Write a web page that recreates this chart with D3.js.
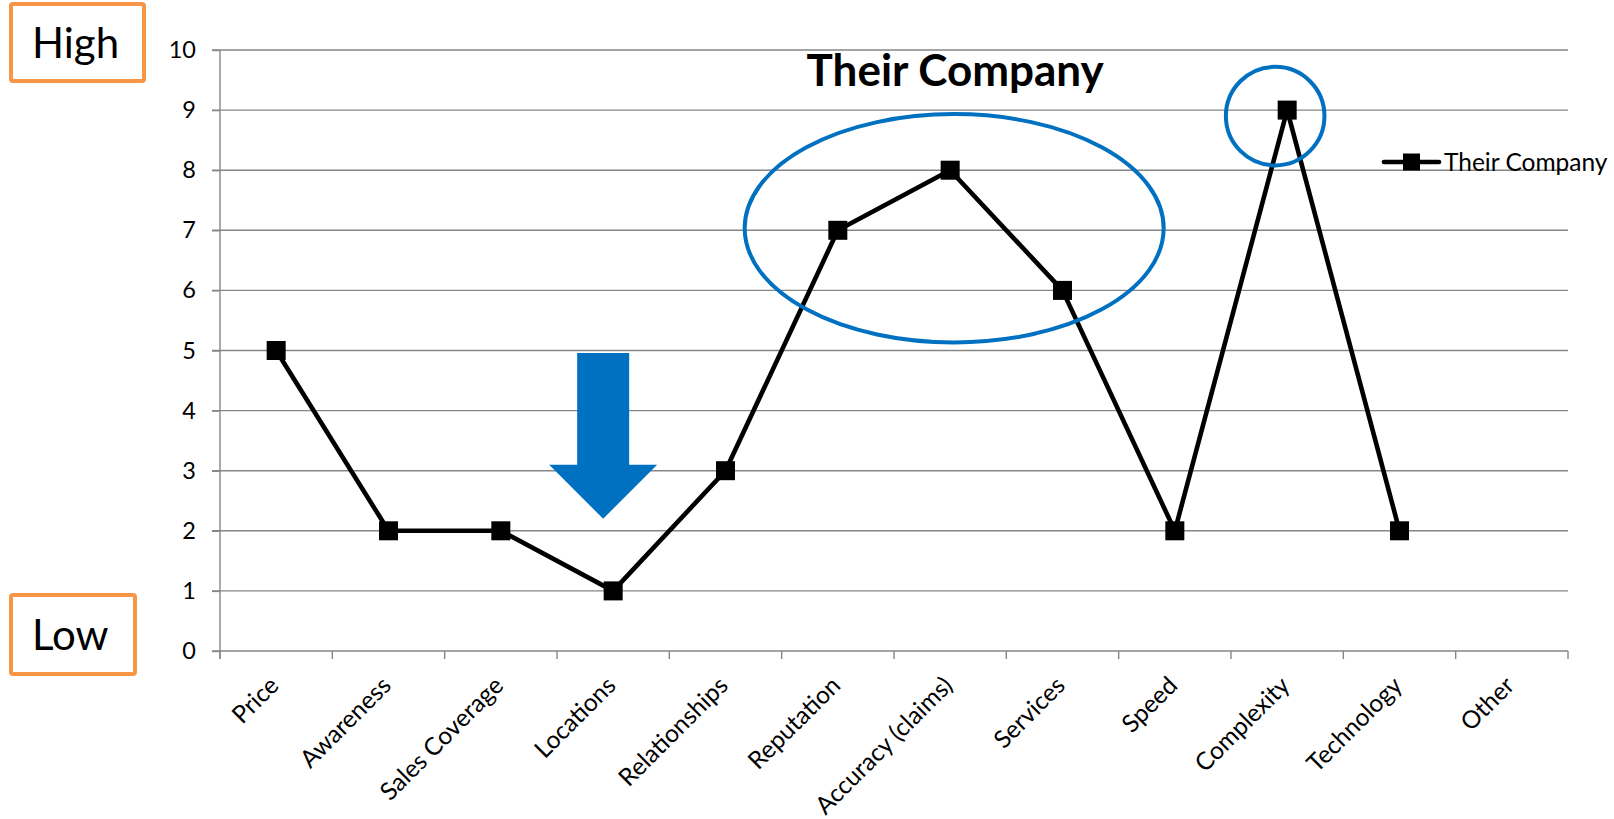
<!DOCTYPE html>
<html>
<head>
<meta charset="utf-8">
<script src="https://cdn.jsdelivr.net/npm/d3@7"></script>
<style>
  html, body { margin: 0; padding: 0; background: #fff; }
  svg { display: block; font-family: Lato, "Open Sans", sans-serif; }
</style>
</head>
<body>
<svg id="chart" width="1614" height="819"></svg>
<script>
// Competitive profile scores by factor
const categories = ["Price", "Awareness", "Sales Coverage", "Locations", "Relationships",
  "Reputation", "Accuracy (claims)", "Services", "Speed", "Complexity", "Technology", "Other"];
const seriesName = "Their Company";
const scores = [5, 2, 2, 1, 3, 7, 8, 6, 2, 9, 2, null];
const yTicks = [0, 1, 2, 3, 4, 5, 6, 7, 8, 9, 10];
const scaleLabels = ["High", "Low"];

const svg = d3.select("#chart");
const plot = { left: 220, right: 1568, top: 50, bottom: 651 };
const gridColor = "#868686";
const accent = "#0070C0";
const boxColor = "#F79646";

const x = d3.scaleBand().domain(categories).range([plot.left, plot.right]).padding(0);
const y = d3.scaleLinear().domain([0, 10]).range([plot.bottom, plot.top]);
const cx = c => x(c) + x.bandwidth() / 2;

// horizontal gridlines
svg.append("g")
  .selectAll("line")
  .data(yTicks.filter(d => d > 0))
  .join("line")
  .attr("x1", plot.left - 8).attr("x2", plot.right)
  .attr("y1", d => y(d)).attr("y2", d => y(d))
  .attr("stroke", gridColor).attr("stroke-width", 1.4);

// y axis
const yAxis = svg.append("g")
  .attr("transform", `translate(${plot.left},0)`)
  .call(d3.axisLeft(y).tickValues(yTicks).tickSize(8).tickPadding(16).tickSizeOuter(0));
yAxis.select(".domain").attr("stroke", gridColor).attr("stroke-width", 1.4)
  .attr("d", `M0,${plot.top}V${plot.bottom + 8}`);
yAxis.selectAll(".tick line").attr("stroke", gridColor).attr("stroke-width", 1.4);
yAxis.selectAll(".tick text").attr("font-size", 23.5).attr("fill", "#000")
  .attr("font-family", "Lato, sans-serif");

// x axis: ticks sit on category boundaries
const xAxis = svg.append("g").attr("transform", `translate(0,${plot.bottom})`);
xAxis.append("line")
  .attr("x1", plot.left - 8).attr("x2", plot.right)
  .attr("stroke", gridColor).attr("stroke-width", 1.4);
const boundaries = categories.map(c => x(c)).concat([plot.right]);
xAxis.selectAll("line.bt")
  .data(boundaries)
  .join("line").attr("class", "bt")
  .attr("x1", d => d).attr("x2", d => d)
  .attr("y1", 0).attr("y2", 8)
  .attr("stroke", gridColor).attr("stroke-width", 1.4);
xAxis.selectAll("text")
  .data(categories)
  .join("text")
  .attr("transform", d => `translate(${cx(d) - 2},${30}) rotate(-45)`)
  .attr("text-anchor", "end")
  .attr("dy", "0.35em")
  .attr("font-size", 24.5)
  .attr("fill", "#000")
  .text(d => d);

// series line
const pts = categories.map((c, i) => ({ c, v: scores[i] })).filter(d => d.v != null);
svg.append("path")
  .datum(pts)
  .attr("fill", "none")
  .attr("stroke", "#000")
  .attr("stroke-width", 4.6)
  .attr("stroke-linejoin", "round")
  .attr("d", d3.line().x(d => cx(d.c)).y(d => y(d.v)));

const mk = 19;
svg.append("g")
  .selectAll("rect")
  .data(pts)
  .join("rect")
  .attr("x", d => cx(d.c) - mk / 2)
  .attr("y", d => y(d.v) - mk / 2)
  .attr("width", mk).attr("height", mk)
  .attr("fill", "#000");

// chart title
svg.append("text")
  .attr("x", cx("Accuracy (claims)") + 5)
  .attr("y", 86)
  .attr("text-anchor", "middle")
  .attr("font-size", 44)
  .attr("font-weight", "bold")
  .attr("fill", "#000")
  .text(seriesName);

// legend
const lg = svg.append("g").attr("transform", "translate(1384,162)");
lg.append("line").attr("x1", 0).attr("x2", 55).attr("stroke", "#000").attr("stroke-width", 4.6)
  .attr("stroke-linecap", "round");
lg.append("rect").attr("x", 19).attr("y", -8.5).attr("width", 17).attr("height", 17).attr("fill", "#000");
lg.append("text").attr("x", 60).attr("y", 0).attr("dy", "0.35em")
  .attr("font-size", 24.5).attr("fill", "#000").text(seriesName);

// highlight: reputation-to-services cluster
svg.append("ellipse")
  .attr("cx", cx("Accuracy (claims)") + 4)
  .attr("cy", y(7) - 2)
  .attr("rx", x.bandwidth() * 1.865)
  .attr("ry", y(0) - y(1.9))
  .attr("fill", "none").attr("stroke", accent).attr("stroke-width", 4);

// highlight: complexity peak
svg.append("circle")
  .attr("cx", cx("Complexity") - 12)
  .attr("cy", y(9) + 6)
  .attr("r", y(0) - y(0.82))
  .attr("fill", "none").attr("stroke", accent).attr("stroke-width", 4);

// downward arrow over locations
const ax = cx("Locations") - 10;
const aTop = y(4.96), aNeck = y(3.1), aTip = y(2.2);
svg.append("path")
  .attr("d", `M${ax - 26},${aTop} L${ax + 26},${aTop} L${ax + 26},${aNeck} L${ax + 54},${aNeck}
              L${ax},${aTip} L${ax - 54},${aNeck} L${ax - 26},${aNeck} Z`)
  .attr("fill", accent);

// High / Low scale boxes
const boxes = [
  { label: scaleLabels[0], x: 11, y: 4, w: 133, h: 77 },
  { label: scaleLabels[1], x: 11, y: 595, w: 124, h: 79 }
];
const bg = svg.append("g").selectAll("g").data(boxes).join("g");
bg.append("rect")
  .attr("x", d => d.x).attr("y", d => d.y).attr("width", d => d.w).attr("height", d => d.h)
  .attr("rx", 2)
  .attr("fill", "#fff").attr("stroke", boxColor).attr("stroke-width", 4);
bg.append("text")
  .attr("x", d => d.x + 21).attr("y", d => d.y + d.h / 2).attr("dy", "0.36em")
  .attr("font-size", 42).attr("fill", "#000")
  .text(d => d.label);
</script>
</body>
</html>
